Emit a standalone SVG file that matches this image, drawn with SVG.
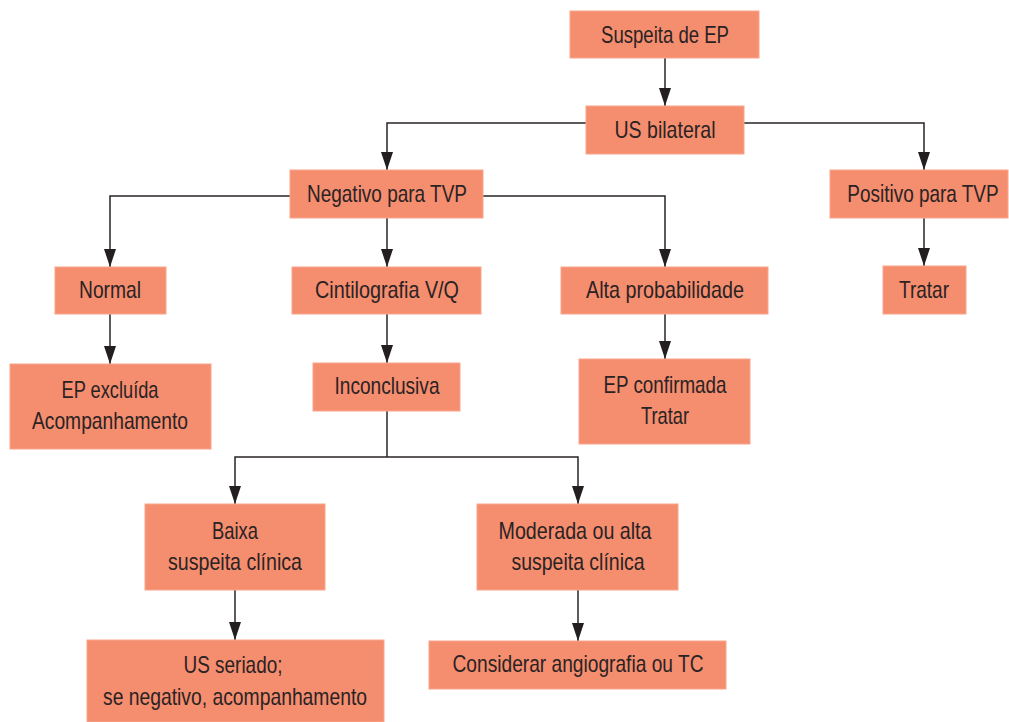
<svg xmlns="http://www.w3.org/2000/svg" width="1009" height="722" viewBox="0 0 1009 722">
<style>
.box{fill:#F58D6F;stroke:#F8A58B;stroke-width:1}
.t{font-family:"Liberation Sans",Arial,sans-serif;font-size:24px;fill:#2A2324;text-anchor:middle}
.c{fill:none;stroke:#2A2324;stroke-width:1.5}
</style>
<defs>
<marker id="ah" markerUnits="userSpaceOnUse" viewBox="0 0 18 12" markerWidth="18" markerHeight="12" refX="18" refY="6" orient="auto">
<path d="M0,0 L18,6 L0,12 z" fill="#231F20"/>
</marker>
</defs>
<rect width="1009" height="722" fill="#fff"/>
<g id="connectors">
<path class="c" d="M665,58 V106" marker-end="url(#ah)"/>
<path class="c" d="M586,123 H387 V170" marker-end="url(#ah)"/>
<path class="c" d="M744,123 H924 V170" marker-end="url(#ah)"/>
<path class="c" d="M290,196 H110 V267" marker-end="url(#ah)"/>
<path class="c" d="M387,218 V267" marker-end="url(#ah)"/>
<path class="c" d="M483,196 H665 V267" marker-end="url(#ah)"/>
<path class="c" d="M924,218 V266" marker-end="url(#ah)"/>
<path class="c" d="M110,314 V364" marker-end="url(#ah)"/>
<path class="c" d="M387,314 V363" marker-end="url(#ah)"/>
<path class="c" d="M665,314 V359" marker-end="url(#ah)"/>
<path class="c" d="M387,411 V457"/>
<path class="c" d="M387,457 H235 V504" marker-end="url(#ah)"/>
<path class="c" d="M387,457 H578 V504" marker-end="url(#ah)"/>
<path class="c" d="M235,590 V640" marker-end="url(#ah)"/>
<path class="c" d="M578,590 V641" marker-end="url(#ah)"/>
</g>
<g id="n1"><rect class="box" x="570" y="11" width="189" height="47"/><text class="t" x="665" y="43" textLength="128" lengthAdjust="spacingAndGlyphs">Suspeita de EP</text></g>
<g id="n2"><rect class="box" x="586" y="106" width="158" height="48"/><text class="t" x="665" y="138" textLength="101" lengthAdjust="spacingAndGlyphs">US bilateral</text></g>
<g id="n3"><rect class="box" x="290" y="170" width="193" height="48"/><text class="t" x="387" y="202" textLength="160" lengthAdjust="spacingAndGlyphs">Negativo para TVP</text></g>
<g id="n4"><rect class="box" x="830" y="170" width="178" height="48"/><text class="t" transform="translate(923,202) scale(0.79,1)" x="0" y="0">Positivo para TVP</text></g>
<g id="n5"><rect class="box" x="55" y="267" width="111" height="47"/><text class="t" x="110" y="298" textLength="62" lengthAdjust="spacingAndGlyphs">Normal</text></g>
<g id="n6"><rect class="box" x="292" y="267" width="189" height="47"/><text class="t" x="387" y="298" textLength="144" lengthAdjust="spacingAndGlyphs">Cintilografia V/Q</text></g>
<g id="n7"><rect class="box" x="561" y="267" width="207" height="47"/><text class="t" x="665" y="298" textLength="158" lengthAdjust="spacingAndGlyphs">Alta probabilidade</text></g>
<g id="n8"><rect class="box" x="883" y="266" width="83" height="48"/><text class="t" x="924" y="298" textLength="50" lengthAdjust="spacingAndGlyphs">Tratar</text></g>
<g id="n9"><rect class="box" x="10" y="364" width="201" height="85"/><text class="t" x="110" y="398" textLength="97" lengthAdjust="spacingAndGlyphs">EP excluída</text><text class="t" x="110" y="429" textLength="156" lengthAdjust="spacingAndGlyphs">Acompanhamento</text></g>
<g id="n10"><rect class="box" x="313" y="363" width="147" height="48"/><text class="t" x="387" y="394" textLength="105" lengthAdjust="spacingAndGlyphs">Inconclusiva</text></g>
<g id="n11"><rect class="box" x="579" y="359" width="171" height="85"/><text class="t" x="665" y="393" textLength="123" lengthAdjust="spacingAndGlyphs">EP confirmada</text><text class="t" x="665" y="424" textLength="48" lengthAdjust="spacingAndGlyphs">Tratar</text></g>
<g id="n12"><rect class="box" x="145" y="504" width="180" height="86"/><text class="t" x="235" y="539" textLength="46" lengthAdjust="spacingAndGlyphs">Baixa</text><text class="t" x="235" y="570" textLength="134" lengthAdjust="spacingAndGlyphs">suspeita clínica</text></g>
<g id="n13"><rect class="box" x="477" y="504" width="201" height="86"/><text class="t" x="575" y="539" textLength="153" lengthAdjust="spacingAndGlyphs">Moderada ou alta</text><text class="t" x="578" y="570" textLength="133" lengthAdjust="spacingAndGlyphs">suspeita clínica</text></g>
<g id="n14"><rect class="box" x="87" y="640" width="297" height="82"/><text class="t" x="233" y="673" textLength="99" lengthAdjust="spacingAndGlyphs">US seriado;</text><text class="t" x="235" y="705" textLength="264" lengthAdjust="spacingAndGlyphs">se negativo, acompanhamento</text></g>
<g id="n15"><rect class="box" x="429" y="641" width="297" height="48"/><text class="t" x="578" y="672" textLength="251" lengthAdjust="spacingAndGlyphs">Considerar angiografia ou TC</text></g>
</svg>
